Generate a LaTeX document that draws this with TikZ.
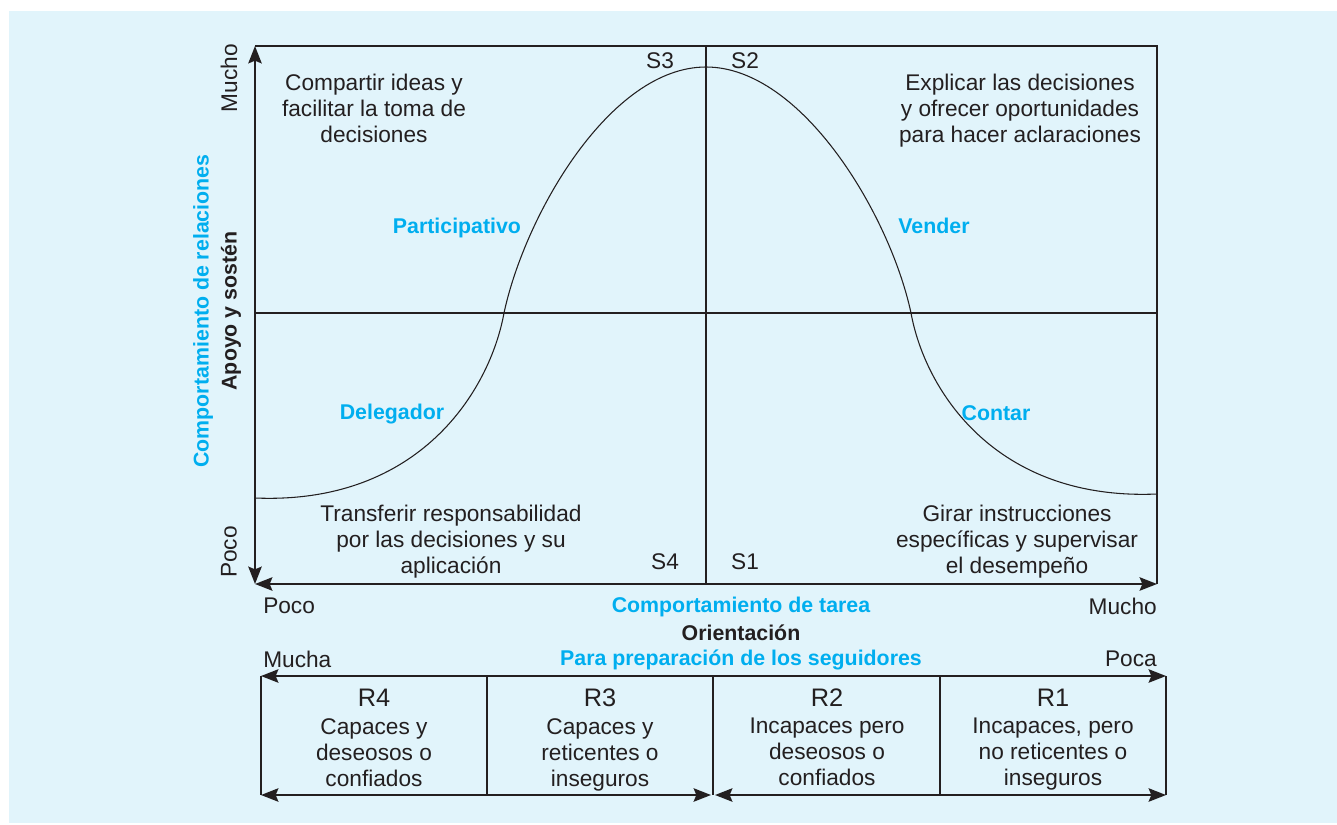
\documentclass[tikz,border=0pt]{standalone}
\usepackage{fontspec}
\setmainfont{Liberation Sans}
\usetikzlibrary{arrows.meta}
\definecolor{bgblue}{HTML}{E1F4FB}
\definecolor{cyanlbl}{HTML}{00AEEF}
\definecolor{ink}{HTML}{231F20}
\begin{document}
\begin{tikzpicture}[x=0.75pt,y=-0.75pt,
  body/.style={font=\fontsize{17}{19.5}\selectfont, text=ink, align=center, inner sep=0pt},
  mline/.style={body, execute at begin node={\strut}, execute at end node={\strut}},
  rlab/.style={font=\fontsize{19}{22}\selectfont, text=ink, inner sep=0pt},
  lbl/.style={font=\fontsize{16}{19}\selectfont\bfseries, text=cyanlbl, inner sep=0pt},
  blk/.style={font=\fontsize{16}{19}\selectfont\bfseries, text=ink, inner sep=0pt},
  frame/.style={draw=ink, line width=1.0pt},
  curve/.style={draw=ink, line width=0.8pt},
  tip/.tip={Stealth[length=13pt,width=10pt,inset=2pt]},
  axis/.style={draw=ink, line width=1.7pt, tip-tip},
  cellline/.style={draw=ink, line width=1.5pt},
]
\useasboundingbox (0,0) rectangle (1337,824);
\fill[white] (0,0) rectangle (1337,824);
\fill[bgblue] (9,11) rectangle (1337,823);

% coordinates of the chart
\coordinate (O) at (255,584);
\coordinate (TL) at (255,46);
\coordinate (TR) at (1157,46);
\coordinate (BR) at (1157,584);
\coordinate (TM) at (706,46);
\coordinate (BM) at (706,584);
\coordinate (ML) at (255,313);
\coordinate (MR) at (1157,313);

\draw[frame] (TL) -- (TR) -- (BR);
\draw[frame] (TM) -- (BM);
\draw[frame] (ML) -- (MR);
\draw[axis] (O) -- (TL);
\draw[axis] (O) -- (BR);

% bell curve
\draw[curve] (255,498) .. controls (420,505) and (490,390) .. (504,313)
  .. controls (525,215) and (610,67) .. (706,67)
  .. controls (802,67) and (890,215) .. (911,313)
  .. controls (925,390) and (995,501) .. (1157,494);

% quadrant texts
\node[mline] (q3) at (374,112) {Compartir ideas y\\facilitar la toma de\\decisiones};
\node[mline] (q2) at (1020,112) {Explicar las decisiones\\y ofrecer oportunidades\\para hacer aclaraciones};
\node[mline] (q4) at (451,543) {Transferir responsabilidad\\por las decisiones y su\\aplicación};
\node[mline] (q1) at (1017,543) {Girar instrucciones\\específicas y supervisar\\el desempeño};

\node[lbl] (part) at (457,228) {Participativo};
\node[lbl] (vend) at (934,226) {Vender};
\node[lbl] (dele) at (392,414) {Delegador};
\node[lbl] (cont) at (996,413) {Contar};

\node[body] (s3) at (660,61) {S3};
\node[body] (s2) at (745,61) {S2};
\node[body] (s4) at (665,562) {S4};
\node[body] (s1) at (745,562) {S1};

% vertical axis labels
\node[body, rotate=90] (vmucho) at (229,78) {Mucho};
\node[body, rotate=90] (vpoco) at (229,552) {Poco};
\node[lbl, rotate=90] (vrel) at (203,311) {Comportamiento de relaciones};
\node[blk, rotate=90] (vapo) at (231,311) {Apoyo y sostén};

% horizontal axis labels
\node[body, anchor=west] (hpoco) at (263,606) {Poco};
\node[body, anchor=east] (hmucho) at (1157,606) {Mucho};
\node[lbl] (htar) at (741,607) {Comportamiento de tarea};
\node[blk] (hori) at (741,633) {Orientación};
\node[body, anchor=west] (mucha) at (263,659) {Mucha};
\node[body, anchor=east] (poca) at (1157,659) {Poca};
\node[lbl] (prep) at (741,660) {Para preparación de los seguidores};

% readiness box
\coordinate (b0t) at (261,676); \coordinate (b0b) at (261,795);
\coordinate (b1t) at (487,676); \coordinate (b1b) at (487,795);
\coordinate (b2t) at (713,676); \coordinate (b2b) at (713,795);
\coordinate (b3t) at (940,676); \coordinate (b3b) at (940,795);
\coordinate (b4t) at (1166,676); \coordinate (b4b) at (1166,795);
\coordinate (b2bl) at (711,795); \coordinate (b2br) at (715,795);

\draw[cellline] (b0t) -- (b0b);
\draw[cellline] (b1t) -- (b1b);
\draw[cellline] (b2t) -- (b2b);
\draw[cellline] (b3t) -- (b3b);
\draw[cellline] (b4t) -- (b4b);
\draw[axis] (b0t) -- (b4t);
\draw[axis] (b0b) -- (b2bl);
\draw[axis] (b2br) -- (b4b);

\node[rlab] (r4) at (374,698) {R4};
\node[rlab] (r3) at (600,698) {R3};
\node[rlab] (r2) at (827,698) {R2};
\node[rlab] (r1) at (1053,698) {R1};
\node[mline] (t4) at (374,756) {Capaces y\\deseosos o\\confiados};
\node[mline] (t3) at (600,756) {Capaces y\\reticentes o\\inseguros};
\node[mline] (t2) at (827,756) {Incapaces pero\\deseosos o\\confiados};
\node[mline] (t1) at (1053,756) {Incapaces, pero\\no reticentes o\\inseguros};
\end{tikzpicture}
\end{document}
